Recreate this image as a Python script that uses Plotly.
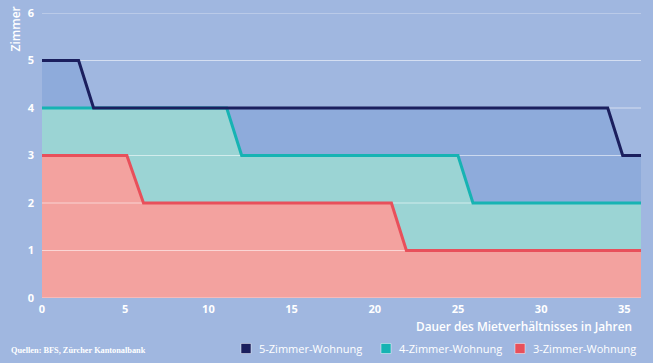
import plotly.graph_objects as go

# Data: step profiles (x = years, y = rooms)
x5 = [0, 2.2, 3.1, 34.0, 34.9, 36]
y5 = [5, 5, 4, 4, 3, 3]
x4 = [0, 11.1, 12.0, 25.0, 25.9, 36]
y4 = [4, 4, 3, 3, 2, 2]
x3 = [0, 5.1, 6.1, 21.0, 21.9, 36]
y3 = [3, 3, 2, 2, 1, 1]

names = ["5-Zimmer-Wohnung", "4-Zimmer-Wohnung", "3-Zimmer-Wohnung"]
line_colors = ["#1b1f5e", "#17b3b3", "#e8505b"]
fill_colors = ["#8eabdb", "#9bd4d4", "#f3a29f"]
bg = "#a0b7e0"
y_ticks = [0, 1, 2, 3, 4, 5, 6]
x_ticks = [0, 5, 10, 15, 20, 25, 30, 35]
x_max = 36

W, H = 653, 363
L, R, T, B = 42, 12, 13, 65
pw, ph = W - L - R, H - T - B


def px(x):
    return (x - L) / pw


def py(y):
    return (H - B - y) / ph


fig = go.Figure()

series = [(x3, y3, 2), (x4, y4, 1), (x5, y5, 0)]
for i, (xs, ys, k) in enumerate(series):
    fig.add_trace(go.Scatter(x=xs, y=ys, mode="lines", line=dict(width=0),
                             fill="tozeroy" if i == 0 else "tonexty",
                             fillcolor=fill_colors[k], showlegend=False,
                             hoverinfo="skip"))

# gridlines above fills, below the lines
for yv in y_ticks:
    fig.add_trace(go.Scatter(x=[0, x_max], y=[yv, yv], mode="lines",
                             line=dict(color="rgba(255,255,255,0.55)", width=1),
                             showlegend=False, hoverinfo="skip"))

for xs, ys, k in series:
    fig.add_trace(go.Scatter(x=xs, y=ys, mode="lines", name=names[k],
                             line=dict(color=line_colors[k], width=3),
                             showlegend=False))

# manual legend
shapes = []
annotations = []
leg_sq_x = [241, 381, 515]
for k in range(3):
    x0 = leg_sq_x[k]
    shapes.append(dict(type="rect", xref="paper", yref="paper",
                       x0=px(x0), x1=px(x0 + 10), y0=py(353.5), y1=py(343.5),
                       fillcolor=line_colors[k],
                       line=dict(color="rgba(255,255,255,0.45)", width=1)))
    annotations.append(dict(text=names[k], xref="paper", yref="paper",
                            x=px(x0 + 16), y=py(348.5), xanchor="left", yanchor="middle",
                            showarrow=False, font=dict(size=11, color="white", weight=500)))

annotations += [
    dict(text="Zimmer", xref="paper", yref="paper", x=px(15), y=py(5),
         xanchor="center", yanchor="top", textangle=-90, showarrow=False,
         font=dict(size=12, color="white", weight=600)),
    dict(text="Dauer des Mietverhältnisses in Jahren", xref="paper", yref="paper",
         x=px(634), y=py(326), xanchor="right", yanchor="middle", showarrow=False,
         font=dict(size=11.8, color="white", weight=600)),
    dict(text="Quellen: BFS, Zürcher Kantonalbank", xref="paper", yref="paper",
         x=px(9), y=py(350), xanchor="left", yanchor="middle", showarrow=False,
         font=dict(size=8.3, color="white", family="Liberation Serif", weight="bold")),
]

fig.update_layout(
    width=W, height=H,
    margin=dict(l=L, r=R, t=T, b=B, autoexpand=False),
    paper_bgcolor=bg, plot_bgcolor=bg,
    font=dict(family="Open Sans", color="white", size=11),
    xaxis=dict(range=[0, x_max], tickvals=x_ticks, showgrid=False, zeroline=False,
               showline=False, ticks="", tickfont=dict(size=11, weight="bold"),
               ticklabelstandoff=3, automargin=False),
    yaxis=dict(range=[0, 6], tickvals=y_ticks, showgrid=False, zeroline=False,
               showline=False, ticks="", tickfont=dict(size=11, weight="bold"),
               ticklabelstandoff=7, automargin=False),
    showlegend=False,
    shapes=shapes,
    annotations=annotations,
)

fig.write_html("out.html", config={"displayModeBar": False},
               post_script="document.body.style.margin='0';document.body.style.background='%s';" % bg)
